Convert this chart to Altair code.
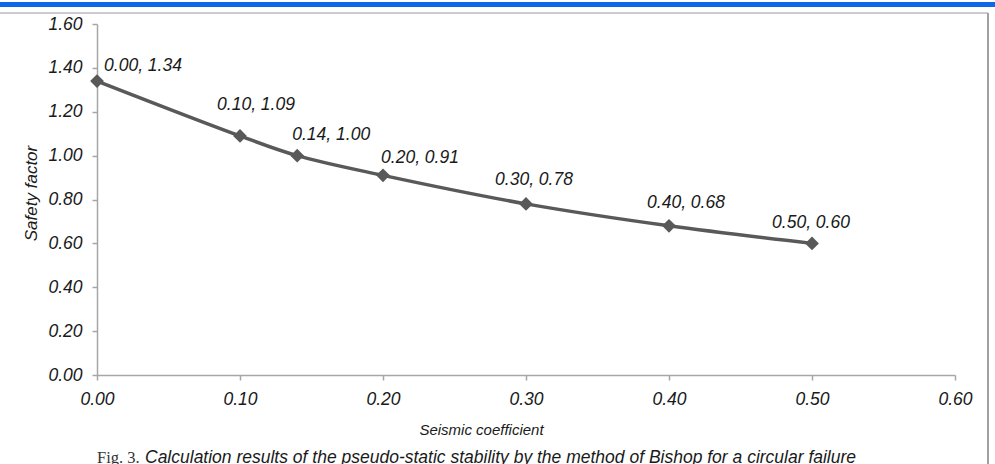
import altair as alt
import pandas as pd

# Pseudo-static stability (Bishop, circular failure surface)
seismic_coef = [0.00, 0.10, 0.14, 0.20, 0.30, 0.40, 0.50]
safety_factor = [1.34, 1.09, 1.00, 0.91, 0.78, 0.68, 0.60]
x_ticks = [0.0, 0.1, 0.2, 0.3, 0.4, 0.5, 0.6]
y_ticks = [0.0, 0.2, 0.4, 0.6, 0.8, 1.0, 1.2, 1.4, 1.6]

x_title = "Seismic coefficient"
y_title = "Safety factor"
fig_no = "Fig. 3."
caption = ("Calculation results of the pseudo-static stability by the method "
           "of Bishop for a circular failure")

# label nudges (px) relative to each marker
label_dx = [46, 16, 34, 37, 8, 17, -1]
label_dy = [-15, -31, -21, -17, -24, -23, -20]

W, H = 858, 351
PAD_L, PAD_T = 97, 24
FONT = "Liberation Sans"
LINE_COLOR = "#595959"
AXIS_COLOR = "#a6a6a6"
TEXT_COLOR = "#1a1a1a"

df = pd.DataFrame({"k": seismic_coef, "fs": safety_factor})
df["label"] = [f"{a:.2f}, {b:.2f}" for a, b in zip(seismic_coef, safety_factor)]
df["i"] = range(len(df))

one = pd.DataFrame({"z": [0]})

x_enc = alt.X(
    "k:Q",
    scale=alt.Scale(domain=[0, 0.6], nice=False, zero=False),
    axis=alt.Axis(
        values=x_ticks, format=".2f", title=x_title, grid=False,
        domainColor=AXIS_COLOR, domainWidth=1.5, tickColor=AXIS_COLOR,
        tickWidth=1.5, tickSize=5, labelFlush=False, labelOverlap=False,
        labelFont=FONT, labelFontSize=17.5, labelFontStyle="italic",
        labelColor=TEXT_COLOR, labelPadding=10,
        titleFont=FONT, titleFontSize=15, titleFontStyle="italic",
        titleFontWeight="normal", titleColor=TEXT_COLOR,
        titleX=384, titleY=54, titleAlign="center", titleBaseline="middle",
    ),
)
y_enc = alt.Y(
    "fs:Q",
    scale=alt.Scale(domain=[0, 1.6], nice=False),
    axis=alt.Axis(
        values=y_ticks, format=".2f", title=y_title, grid=False,
        domainColor=AXIS_COLOR, domainWidth=1.5, tickColor=AXIS_COLOR,
        tickWidth=1.5, tickSize=5, labelFlush=False, labelOverlap=False,
        labelFont=FONT, labelFontSize=17.5, labelFontStyle="italic",
        labelColor=TEXT_COLOR, labelPadding=10,
        titleFont=FONT, titleFontSize=17, titleFontStyle="italic",
        titleFontWeight="normal", titleColor=TEXT_COLOR,
        titleX=-66, titleY=169, titleAngle=270, titleAlign="center",
        titleBaseline="middle",
    ),
)

base = alt.Chart(df)

curve = base.mark_line(
    interpolate="catmull-rom", color=LINE_COLOR, strokeWidth=3.5
).encode(x=x_enc, y=y_enc)

markers = base.mark_point(
    shape="diamond", filled=True, size=190, color=LINE_COLOR, opacity=1
).encode(x="k:Q", y="fs:Q")

labels = [
    base.transform_filter(alt.datum.i == i).mark_text(
        font=FONT, fontSize=17.5, fontStyle="italic", color=TEXT_COLOR,
        align="center", baseline="middle", dx=label_dx[i], dy=label_dy[i],
    ).encode(x="k:Q", y="fs:Q", text="label:N")
    for i in range(len(df))
]

# page decorations: blue header strip and grey frame lines
header = alt.Chart(one).mark_rect(color="#0f67e8").encode(
    x=alt.value(-PAD_L), x2=alt.value(995 - PAD_L),
    y=alt.value(2 - PAD_T), y2=alt.value(7 - PAD_T),
)
frame_top = alt.Chart(one).mark_rule(color="#cccccc", strokeWidth=2).encode(
    x=alt.value(-PAD_L), x2=alt.value(988 - PAD_L),
    y=alt.value(13 - PAD_T),
)
frame_right = alt.Chart(one).mark_rule(color="#a0a0a0", strokeWidth=2).encode(
    x=alt.value(988 - PAD_L),
    y=alt.value(13 - PAD_T), y2=alt.value(464 - PAD_T),
)

fig_label = alt.Chart(one).mark_text(
    text=fig_no, font="Liberation Serif", fontSize=16.5, color="#333333",
    align="left", baseline="alphabetic",
).encode(x=alt.value(0), y=alt.value(463 - PAD_T))
fig_caption = alt.Chart(one).mark_text(
    text=caption, font=FONT, fontSize=17.5, fontStyle="italic",
    color=TEXT_COLOR, align="left", baseline="alphabetic",
).encode(x=alt.value(48), y=alt.value(463 - PAD_T))

chart = alt.layer(
    header, frame_top, frame_right, curve, markers, *labels,
    fig_label, fig_caption,
).properties(
    width=W, height=H,
    autosize=alt.AutoSizeParams(type="none"),
    padding={"left": PAD_L, "top": PAD_T, "right": 995 - PAD_L - W,
             "bottom": 464 - PAD_T - H},
    background="white",
).configure_view(stroke=None)

chart.save("out.html", embed_options={"renderer": "svg", "actions": False})
